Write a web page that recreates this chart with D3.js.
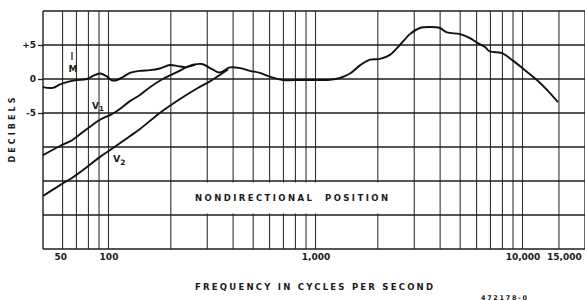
<!DOCTYPE html>
<meta charset="utf-8">

<head>
  <title>nondirectional-response</title>
</head>

<style>
  body {
    margin: 0;
    background: #fff;
  }

  text {
    font-family: "DejaVu Sans", sans-serif;
    font-weight: bold;
    fill: #1a1a1a;
  }

  .tick text {
    font-size: 9px;
  }

  .vgrid line {
    stroke: #333;
    stroke-width: 1.1;
  }

  .hgrid line {
    stroke: #1e1e1e;
    stroke-width: 1.3;
  }

  .curve {
    fill: none;
    stroke: #111;
    stroke-width: 1.9;
  }
</style>

<body>
  <div id="content">
    <svg width="585" height="300">
    </svg>
  </div>

  <script src="https://cdnjs.cloudflare.com/ajax/libs/d3/7.8.5/d3.min.js"></script>
  <script>
    // curve M (and the common curve once V1 and V2 have joined it)
    var mFreq = [48.25, 53.9, 58.3, 63, 68.9, 78.7, 84.2, 91, 97.3, 104, 109.9, 117.5, 127, 142, 158.6, 177, 198, 216.5,
      236.5, 256, 283, 316, 345, 386, 432, 482, 539, 602, 697, 841, 972, 1173, 1312, 1467, 1640, 1833, 2048, 2289, 2558,
      2859, 3195, 3571, 3991, 4316, 4986, 5573, 6025, 6585, 6962, 7957, 8990, 10275, 11743, 13270, 14829]
    var mDb = [-1.2, -1.3, -0.8, -0.45, -0.2, 0, 0.45, 0.8, 0.45, -0.2, -0.15, 0.3, 0.9, 1.2, 1.3, 1.55, 2.05, 1.9,
      1.75, 2.1, 2.2, 1.45, 0.95, 1.7, 1.6, 1.2, 0.9, 0.35, -0.15, -0.15, -0.15, -0.1, 0.15, 0.8, 2.0, 2.85, 2.95, 3.55, 5.0,
      6.6, 7.5, 7.65, 7.5, 6.85, 6.6, 6.0, 5.35, 4.7, 4.05, 3.8, 2.7, 1.3, -0.15, -1.75, -3.4]

    var v1Freq = [48.25, 58.3, 66.6, 78.7, 91, 101.7, 109.9, 127, 142, 158.6, 183, 214, 239, 262]
    var v1Db = [-11.2, -9.85, -9.0, -7.35, -6.0, -5.3, -4.7, -3.25, -2.35, -1.2, 0, 1.0, 1.75, 2.1]

    var v2Freq = [48.25, 58.3, 66.6, 78.7, 91, 105.1, 122.9, 142, 177, 221.5, 267.5, 309, 345, 378]
    var v2Db = [-17.2, -15.6, -14.55, -12.95, -11.45, -10.15, -8.7, -7.35, -5.0, -2.95, -1.4, -0.35, 0.6, 1.4]

    var gridFreqs = [60, 70, 80, 90, 100, 200, 300, 400, 500, 600, 700, 800, 900, 1000,
      2000, 3000, 4000, 5000, 6000, 7000, 8000, 9000, 10000, 15000, 20000]
    var gridDb = [10, 5, 0, -5, -10, -15, -20, -25]

    var xTickValues = [50, 100, 1000, 10000, 15000]
    var xTickText = ['50', '100', '1,000', '10,000', '15,000']
    var yTickValues = [5, 0, -5]
    var yTickText = ['+5', '0', '-5']

    var plotLeft = 43,
      plotRight = 585

    var x = d3.scaleLog().domain([100, 10000]).range([108.5, 522.5])
    var y = d3.scaleLinear().domain([-25, 10]).range([249, 11])

    var svg = d3.select('svg')

    svg.append('rect')
      .attr('width', 585)
      .attr('height', 300)
      .attr('fill', '#fff')

    // grid
    svg.append('g')
      .attr('class', 'vgrid')
      .selectAll('line')
      .data(gridFreqs)
      .enter()
      .append('line')
      .attr('x1', function(d) {
        return x(d)
      })
      .attr('x2', function(d) {
        return x(d)
      })
      .attr('y1', y(10))
      .attr('y2', y(-25))

    svg.append('line')
      .attr('x1', plotLeft)
      .attr('x2', plotLeft)
      .attr('y1', y(10))
      .attr('y2', y(-25))
      .attr('stroke', '#1e1e1e')
      .attr('stroke-width', 1.4)

    svg.append('g')
      .attr('class', 'hgrid')
      .selectAll('line')
      .data(gridDb)
      .enter()
      .append('line')
      .attr('x1', plotLeft)
      .attr('x2', plotRight)
      .attr('y1', function(d) {
        return y(d)
      })
      .attr('y2', function(d) {
        return y(d)
      })

    // label box cuts the grid
    svg.append('rect')
      .attr('x', 188)
      .attr('y', y(-15) + 1.5)
      .attr('width', 206)
      .attr('height', y(-20) - y(-15) - 3)
      .attr('fill', '#fff')

    svg.append('text')
      .attr('x', 195)
      .attr('y', 201)
      .attr('font-size', 8.5)
      .attr('textLength', 193)
      .attr('lengthAdjust', 'spacing')
      .style('white-space', 'pre')
      .text('NONDIRECTIONAL  POSITION')

    // curves
    var line = d3.line()
      .x(function(d) {
        return x(d[0])
      })
      .y(function(d) {
        return y(d[1])
      })
      .curve(d3.curveCatmullRom)

    svg.append('path').attr('class', 'curve').attr('d', line(d3.zip(mFreq, mDb)))
    svg.append('path').attr('class', 'curve').attr('d', line(d3.zip(v1Freq, v1Db)))
    svg.append('path').attr('class', 'curve').attr('d', line(d3.zip(v2Freq, v2Db)))

    // curve names
    svg.append('line')
      .attr('x1', 72).attr('x2', 72)
      .attr('y1', 52).attr('y2', 60)
      .attr('stroke', '#222')
      .attr('stroke-width', 1.2)
    svg.append('text').attr('x', 73).attr('y', 72).attr('font-size', 9).attr('text-anchor', 'middle').text('M')

    var v1 = svg.append('text').attr('x', 92).attr('y', 109).attr('font-size', 9)
    v1.append('tspan').text('V')
    v1.append('tspan').attr('font-size', 7).attr('dy', 2).text('1')

    var v2 = svg.append('text').attr('x', 113).attr('y', 162).attr('font-size', 9.5)
    v2.append('tspan').text('V')
    v2.append('tspan').attr('font-size', 7.5).attr('dy', 3).text('2')

    // axes
    var xAxis = d3.axisBottom(x)
      .tickValues(xTickValues)
      .tickFormat(function(d, i) {
        return xTickText[i]
      })
      .tickSize(0)
      .tickPadding(0)

    svg.append('g')
      .attr('transform', 'translate(0,' + 254 + ')')
      .call(xAxis)
      .call(function(g) {
        g.select('.domain').remove()
        // on the paper the 50 is lettered clear of the frame
        g.selectAll('.tick text').filter(function(d) {
          return d === 50
        }).attr('dx', 14)
        g.selectAll('.tick text').filter(function(d) {
          return d === 15000
        }).attr('dx', 5)
      })

    var yAxis = d3.axisLeft(y)
      .tickValues(yTickValues)
      .tickFormat(function(d, i) {
        return yTickText[i]
      })
      .tickSize(5)
      .tickPadding(2)

    svg.append('g')
      .attr('transform', 'translate(' + plotLeft + ',0)')
      .call(yAxis)
      .call(function(g) {
        g.select('.domain').remove()
        g.selectAll('.tick line').attr('stroke', '#222').attr('stroke-width', 1.3)
      })

    svg.append('text')
      .attr('transform', 'translate(15,130) rotate(-90)')
      .attr('text-anchor', 'middle')
      .attr('font-size', 8)
      .attr('textLength', 65)
      .attr('lengthAdjust', 'spacing')
      .text('DECIBELS')

    svg.append('text')
      .attr('x', 195)
      .attr('y', 290)
      .attr('font-size', 8.5)
      .attr('textLength', 238)
      .attr('lengthAdjust', 'spacing')
      .text('FREQUENCY IN CYCLES PER SECOND')

    svg.append('text')
      .attr('x', 481)
      .attr('y', 299.5)
      .attr('font-size', 6.5)
      .attr('textLength', 46)
      .attr('lengthAdjust', 'spacing')
      .text('472178-0')
  </script>
</body>

</html>
